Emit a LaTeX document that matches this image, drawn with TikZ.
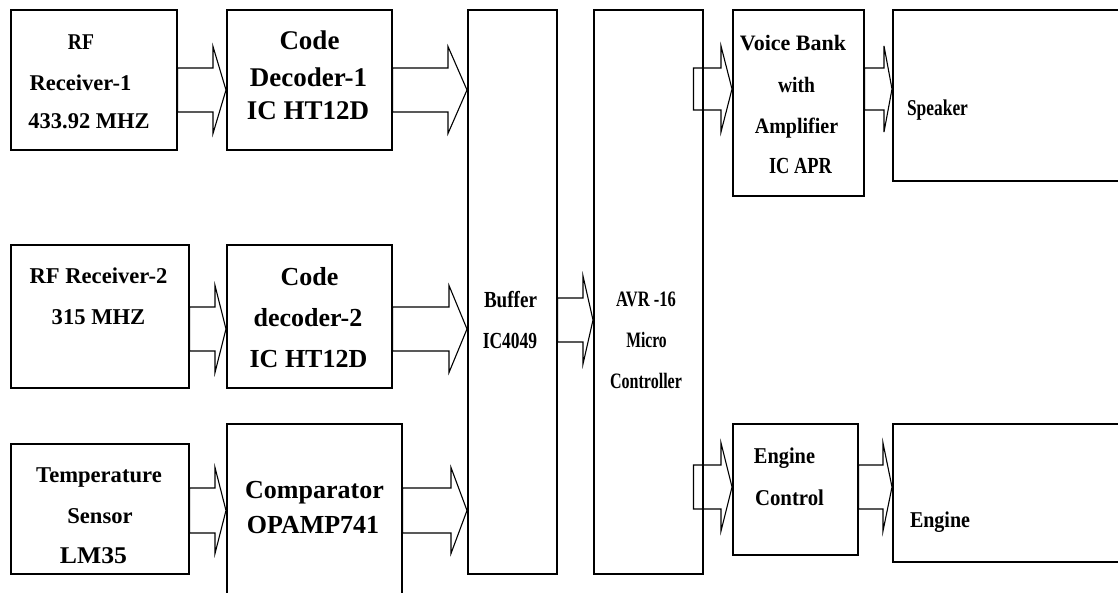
\documentclass[tikz,border=0pt]{standalone}
\usepackage{fontspec}
\setmainfont{Liberation Serif}
\usetikzlibrary{calc}

\tikzset{
  box/.style={draw=black, line width=1.5pt, fill=none, inner sep=0pt, anchor=north west},
  barrow/.style={draw=black, line width=1.1pt, line join=miter},
  txt/.style={inner sep=0pt, anchor=base, text=black}
}

% block: name, x, y (top-left, px from top), width, height
\newcommand\blockbox[5]{\node[box, minimum width=#4pt, minimum height=#5pt] (#1) at (#2pt,-#3pt) {};}
% text line: name, centre x, baseline y, size, horizontal scale, text
\newcommand\tline[6]{\node[txt, font={\fontsize{#4pt}{#4pt}\selectfont\bfseries}] (#1) at (#2pt,-#3pt) {\scalebox{#5}[1]{#6}};}
% block arrow: source, target, centre y, shaft half, head half, head length, start offset
\newcommand\blockarr[7]{%
  \draw[barrow] let \p1=(#1.east), \p2=(#2.west) in
    (\x1+#7pt,-#3pt+#4pt) -- (\x2-#6pt,-#3pt+#4pt) -- (\x2-#6pt,-#3pt+#5pt) --
    (\x2,-#3pt) -- (\x2-#6pt,-#3pt-#5pt) -- (\x2-#6pt,-#3pt-#4pt) --
    (\x1+#7pt,-#3pt-#4pt) -- cycle;}

\begin{document}
\begin{tikzpicture}
\useasboundingbox (0,0) rectangle (1118pt,-592pt);
\clip (0,0) rectangle (1118pt,-592pt);
\fill[white] (0,0) rectangle (1118pt,-592pt);

% blocks
\blockbox{rf1}{10}{9}{166}{140}
\blockbox{dec1}{226}{9}{165}{140}
\blockbox{rf2}{10}{244}{178}{143}
\blockbox{dec2}{226}{244}{165}{143}
\blockbox{temp}{10}{443}{178}{130}
\blockbox{comp}{226}{423}{175}{200}
\blockbox{buf}{467}{9}{89}{564}
\blockbox{avr}{593}{9}{109}{564}
\blockbox{voice}{732}{9}{131}{186}
\blockbox{spk}{892}{9}{240}{171}
\blockbox{engctl}{732}{423}{125}{131}
\blockbox{eng}{892}{423}{240}{138}

% labels
\tline{rf1a}{81}{49}{22.5}{0.87}{RF}
\tline{rf1b}{80.5}{90}{22.5}{1}{Receiver-1}
\tline{rf1c}{89}{128}{22.5}{1}{433.92 MHZ}

\tline{dec1a}{309.5}{49}{27}{1}{Code}
\tline{dec1b}{308.5}{86}{27}{1}{Decoder-1}
\tline{dec1c}{308}{119}{27}{1}{IC HT12D}

\tline{rf2a}{98.5}{283}{22.6}{1}{RF Receiver-2}
\tline{rf2b}{98.5}{324}{22.6}{1}{315 MHZ}

\tline{dec2a}{309.5}{285}{26}{1}{Code}
\tline{dec2b}{308}{326}{26}{1}{decoder-2}
\tline{dec2c}{308.5}{367}{26}{1}{IC HT12D}

\tline{tempa}{99}{482}{22.6}{1}{Temperature}
\tline{tempb}{100}{523}{22.6}{1}{Sensor}
\tline{tempc}{93.5}{563}{24}{1.07}{LM35}

\tline{compa}{314.5}{498}{26}{1}{Comparator}
\tline{compb}{313}{533}{26}{1}{OPAMP741}

\tline{bufa}{510.5}{307}{23}{0.83}{Buffer}
\tline{bufb}{510}{348}{23}{0.76}{IC4049}

\tline{avra}{646}{306}{22}{0.75}{AVR -16}
\tline{avrb}{646.5}{347}{22}{0.71}{Micro}
\tline{avrc}{646}{388}{22}{0.73}{Controller}

\tline{voicea}{793}{50}{22}{1}{Voice Bank}
\tline{voiceb}{796.5}{92}{22}{0.89}{with}
\tline{voicec}{796.5}{133}{22}{0.91}{Amplifier}
\tline{voiced}{800.5}{173}{23}{0.8}{IC APR}

\tline{spka}{937.5}{115}{22.6}{0.77}{Speaker}

\tline{engctla}{784.5}{463}{22.6}{0.9}{Engine}
\tline{engctlb}{789.5}{505}{22.6}{0.92}{Control}

\tline{enga}{940}{527}{22.6}{0.885}{Engine}

% block arrows
\blockarr{rf1}{dec1}{90}{22}{43.5}{13}{0}
\blockarr{dec1}{buf}{90}{22}{43.5}{19}{0}
\blockarr{rf2}{dec2}{329}{22}{43.5}{11}{0}
\blockarr{dec2}{buf}{329}{22}{43.5}{18}{0}
\blockarr{temp}{comp}{510.5}{22.5}{43}{11}{0}
\blockarr{comp}{buf}{510.5}{22.5}{43}{16}{0}
\blockarr{buf}{avr}{320}{22}{44}{10}{0}
\blockarr{avr}{voice}{89}{21}{43}{11}{-10}
\blockarr{voice}{spk}{89}{21}{43}{8}{0}
\blockarr{avr}{engctl}{487}{22}{44}{11}{-10}
\blockarr{engctl}{eng}{487}{22}{44}{9}{0}
\end{tikzpicture}
\end{document}
